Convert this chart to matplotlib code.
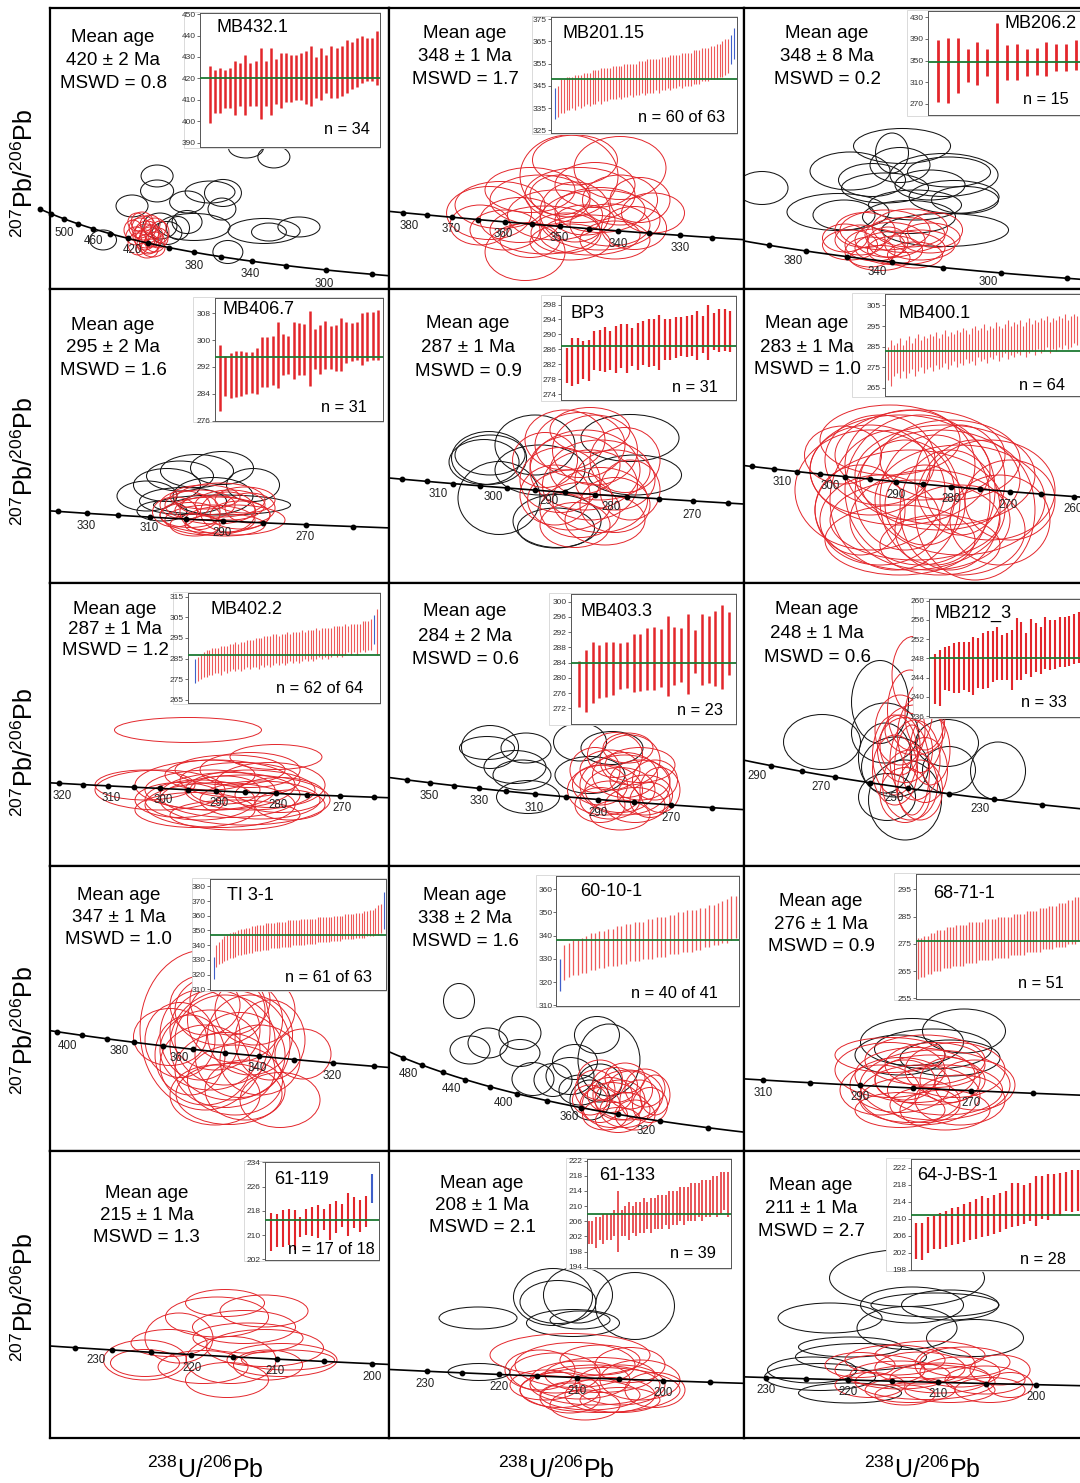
import numpy as np
import matplotlib
matplotlib.use("Agg")
import matplotlib.pyplot as plt
from matplotlib.patches import Ellipse, Rectangle

plt.rcParams["font.family"] = ["Liberation Sans", "DejaVu Sans"]
plt.rcParams["mathtext.fontset"] = "custom"
plt.rcParams["mathtext.rm"] = "Liberation Sans"
plt.rcParams["mathtext.it"] = "Liberation Sans:italic"
plt.rcParams["mathtext.bf"] = "Liberation Sans:bold"

# ---------------------------------------------------------------- samples
sample_names = ["MB432.1", "MB201.15", "MB206.2", "MB406.7", "BP3", "MB400.1",
                "MB402.2", "MB403.3", "MB212_3", "TI 3-1", "60-10-1", "68-71-1",
                "61-119", "61-133", "64-J-BS-1"]
mean_ages = [420, 348, 348, 295, 287, 283, 287, 284, 248, 347, 338, 276, 215, 208, 211]
mean_errs = [2, 1, 8, 2, 1, 1, 1, 2, 1, 1, 2, 1, 1, 1, 1]
mswd_values = ["0.8", "1.7", "0.2", "1.6", "0.9", "1.0", "1.2", "0.6", "0.6",
               "1.0", "1.6", "0.9", "1.3", "2.1", "2.7"]
n_labels = ["n = 34", "n = 60 of 63", "n = 15", "n = 31", "n = 31", "n = 64",
            "n = 62 of 64", "n = 23", "n = 33", "n = 61 of 63", "n = 40 of 41",
            "n = 51", "n = 17 of 18", "n = 39", "n = 28"]

# concordia age marks (Ma): (oldest, youngest, step) and labelled ages
tick_ages = [(540, 260, 20), (385, 320, 5), (420, 260, 20), (340, 260, 10), (320, 260, 5),
             (320, 255, 5), (320, 265, 5), (360, 260, 10), (290, 220, 10), (400, 300, 10),
             (500, 300, 20), (310, 260, 10), (235, 200, 5), (230, 195, 5), (235, 195, 5)]
label_ages = [[500, 460, 420, 380, 340, 300], [380, 370, 360, 350, 340, 330], [380, 340, 300],
              [330, 310, 290, 270], [310, 300, 290, 280, 270], [310, 300, 290, 280, 270, 260],
              [320, 310, 300, 290, 280, 270], [350, 330, 310, 290, 270], [290, 270, 250, 230],
              [400, 380, 360, 340, 320], [480, 440, 400, 360, 320], [310, 290, 270],
              [230, 220, 210, 200], [230, 220, 210, 200], [230, 220, 210, 200]]

# ------------------------------------------- single-grain ages, 2s range (Ma)
mb432_lo = [399, 404, 404, 406, 406, 403, 407, 403, 407, 407, 401, 407, 403, 408, 406, 409, 409,
            410, 410, 408, 407, 411, 410, 413, 411, 411, 412, 413, 415, 416, 418, 419, 419, 417]
mb432_hi = [426, 424, 425, 424, 425, 428, 427, 431, 427, 428, 434, 428, 434, 429, 432, 432, 431,
            431, 432, 433, 435, 430, 434, 431, 435, 434, 435, 438, 437, 439, 440, 439, 439, 442]

mb201_lo = [330, 331, 333, 333, 334, 334, 335, 334, 336, 335, 336, 337, 336, 337, 337, 338, 337,
            338, 338, 339, 339, 339, 340, 339, 340, 340, 341, 340, 341, 341, 342, 341, 342, 342,
            342, 343, 342, 343, 343, 344, 343, 344, 344, 345, 344, 345, 345, 345, 346, 346, 346,
            347, 347, 347, 348, 348, 348, 349, 349, 350, 351, 355, 357]
mb201_hi = [344, 345, 348, 348, 349, 349, 349, 350, 350, 350, 351, 351, 351, 352, 352, 352, 353,
            353, 353, 353, 354, 354, 354, 354, 355, 355, 355, 355, 355, 356, 356, 356, 357, 357,
            357, 357, 357, 358, 358, 358, 359, 359, 359, 359, 360, 360, 360, 360, 361, 361, 361,
            362, 362, 362, 363, 363, 364, 364, 365, 366, 366, 368, 371]
mb201_rejected = [0, 61, 62]

mb206_lo = [274, 272, 290, 311, 305, 322, 271, 314, 314, 322, 324, 321, 330, 330, 332]
mb206_hi = [389, 391, 391, 371, 385, 371, 420, 379, 380, 372, 373, 385, 380, 381, 388]

mb406_lo = [279.0, 283.2, 282.8, 283.0, 283.2, 283.9, 284.2, 283.9, 286.1, 286.1, 286.5, 285.7,
            289.7, 289.9, 288.5, 289.7, 289.5, 286.2, 291.5, 289.9, 291.3, 291.5, 290.9, 290.7,
            293.1, 293.8, 294.1, 292.5, 293.8, 294.1, 294.1]
mb406_hi = [298.6, 295.1, 296.1, 296.6, 296.6, 296.4, 296.4, 297.6, 300.8, 300.8, 301.1, 305.5,
            301.9, 301.1, 305.3, 305.0, 304.7, 308.7, 303.3, 304.5, 305.7, 304.3, 304.5, 306.5,
            305.5, 305.0, 305.5, 308.0, 308.2, 308.3, 308.9]

bp3_lo = [277.0, 276.1, 276.7, 278.1, 277.6, 280.5, 280.1, 279.9, 280.5, 279.6, 281.0, 279.6,
          281.4, 280.5, 281.7, 281.2, 281.4, 280.5, 283.0, 283.2, 283.7, 284.1, 283.9, 284.1,
          283.0, 285.0, 283.0, 285.9, 285.3, 285.6, 285.4]
bp3_hi = [286.4, 289.0, 289.0, 288.3, 288.6, 290.8, 291.3, 291.9, 291.0, 292.2, 292.8, 292.8,
          291.6, 293.1, 293.5, 294.2, 294.0, 295.1, 294.0, 294.0, 294.6, 294.6, 294.9, 295.1,
          296.4, 294.9, 298.0, 295.8, 296.7, 296.7, 296.4]

mb400_lo = [269, 266, 271, 272, 270, 273, 270, 272, 274, 271, 273, 275, 272, 274, 275, 273, 276,
            274, 275, 277, 274, 276, 278, 275, 277, 276, 279, 277, 278, 276, 280, 278, 279, 277,
            280, 279, 281, 278, 280, 282, 279, 281, 280, 282, 281, 283, 280, 282, 283, 281, 284,
            282, 283, 285, 282, 284, 283, 285, 284, 286, 284, 285, 287, 286]
mb400_hi = [285, 288, 286, 287, 289, 286, 288, 290, 287, 289, 291, 288, 290, 289, 291, 290, 292,
            289, 291, 293, 290, 292, 291, 293, 292, 294, 293, 291, 294, 295, 293, 294, 296, 293,
            295, 294, 297, 295, 294, 296, 298, 295, 297, 296, 298, 295, 297, 299, 296, 298, 297,
            299, 298, 300, 297, 299, 298, 300, 299, 301, 298, 300, 301, 300]

mb402_lo = [273, 274, 275, 276, 276, 277, 277, 278, 278, 277, 279, 278, 279, 280, 279, 280, 279,
            280, 281, 280, 281, 281, 280, 282, 281, 282, 281, 282, 283, 282, 283, 282, 283, 284,
            283, 284, 283, 284, 285, 284, 285, 284, 285, 286, 285, 286, 285, 286, 287, 286, 287,
            286, 287, 288, 287, 288, 287, 288, 289, 288, 289, 289, 292, 287]
mb402_hi = [285, 286, 287, 288, 289, 289, 290, 290, 290, 291, 291, 291, 292, 292, 293, 292, 293,
            293, 294, 294, 294, 295, 295, 295, 296, 296, 296, 297, 297, 296, 297, 297, 298, 297,
            298, 298, 298, 299, 298, 299, 299, 299, 300, 299, 300, 300, 300, 300, 301, 301, 301,
            301, 302, 301, 302, 302, 302, 302, 303, 303, 303, 304, 306, 309]
mb402_rejected = [0, 62]

mb403_lo = [272.4, 271.1, 273.3, 274.6, 274.9, 275.5, 277.1, 277.3, 276.3, 276.6, 276.8, 276.8,
            277.5, 275.3, 278.1, 278.9, 275.9, 281.4, 278.1, 278.7, 277.9, 277.0, 280.8]
mb403_hi = [284.3, 287.3, 289.5, 288.6, 289.3, 289.5, 289.1, 289.5, 291.5, 291.5, 293.0, 293.3,
            292.7, 296.1, 293.4, 293.0, 296.7, 292.6, 296.8, 296.2, 297.6, 299.1, 297.2]

mb212_lo = [238.5, 238.0, 241.4, 241.3, 240.7, 240.7, 241.4, 241.1, 240.4, 241.8, 241.6, 241.8,
            243.1, 243.6, 243.5, 243.6, 241.4, 243.5, 243.6, 244.7, 244.2, 245.2, 244.7, 245.7,
            245.6, 245.7, 246.1, 246.1, 246.4, 246.8, 247.0, 247.3, 247.9]
mb212_hi = [248.9, 249.7, 250.4, 250.6, 251.1, 251.5, 251.3, 251.5, 252.5, 252.2, 253.2, 253.6,
            253.6, 254.6, 252.9, 253.2, 253.9, 256.5, 255.6, 253.3, 256.1, 255.3, 254.6, 256.7,
            256.0, 256.0, 256.7, 256.7, 256.8, 257.2, 257.6, 258.0, 258.5]

ti31_lo = [317, 325, 327, 328, 329, 330, 331, 331, 332, 333, 333, 334, 334, 335, 335, 336, 336,
           336, 337, 337, 337, 338, 338, 338, 338, 339, 339, 339, 339, 340, 340, 340, 340, 340,
           341, 341, 341, 341, 342, 342, 342, 342, 342, 343, 343, 343, 343, 344, 344, 344, 344,
           344, 345, 345, 345, 345, 346, 346, 346, 347, 347, 348, 351]
ti31_hi = [332, 340, 342, 344, 346, 347, 348, 349, 349, 350, 351, 351, 352, 352, 353, 353, 354,
           354, 354, 355, 355, 355, 355, 356, 356, 356, 356, 357, 357, 357, 357, 357, 358, 358,
           358, 358, 358, 358, 359, 359, 359, 359, 359, 359, 360, 360, 360, 360, 361, 361, 361,
           361, 362, 362, 362, 363, 363, 364, 364, 365, 367, 368, 376]
ti31_rejected = [0, 62]

s601001_lo = [316, 321, 322, 323, 323, 324, 324, 325, 325, 326, 326, 327, 327, 327, 328, 328,
              329, 329, 329, 330, 330, 330, 331, 331, 331, 332, 332, 332, 333, 333, 333, 334,
              334, 335, 335, 336, 336, 337, 337, 338, 339]
s601001_hi = [330, 336, 337, 338, 338, 339, 340, 341, 341, 342, 342, 343, 343, 344, 344, 345,
              345, 346, 346, 346, 347, 347, 348, 348, 348, 349, 349, 350, 350, 351, 351, 351,
              352, 352, 353, 353, 354, 355, 356, 357, 357]
s601001_rejected = [0]

s68711_lo = [262, 263, 263, 264, 264, 265, 265, 265, 266, 266, 266, 267, 267, 267, 267, 268,
             268, 268, 268, 269, 269, 269, 269, 269, 270, 270, 270, 270, 270, 271, 271, 271,
             271, 271, 272, 272, 272, 272, 272, 273, 273, 273, 273, 274, 274, 274, 274, 275,
             275, 275, 276]
s68711_hi = [277, 277, 278, 278, 279, 279, 280, 280, 280, 281, 281, 281, 282, 282, 282, 282,
             283, 283, 283, 283, 283, 284, 284, 284, 284, 285, 285, 285, 285, 285, 286, 286,
             286, 286, 287, 287, 287, 287, 288, 288, 288, 289, 289, 289, 290, 290, 290, 291,
             291, 292, 292]

s61119_lo = [204.9, 206.2, 206.2, 206.9, 205.1, 209.4, 210.0, 209.7, 208.9, 211.6, 208.3, 210.7,
             212.7, 209.7, 212.2, 211.0, 212.7, 220.6]
s61119_hi = [217.3, 216.8, 218.4, 218.7, 218.4, 216.0, 218.7, 219.3, 219.8, 218.7, 220.4, 221.4,
             220.4, 223.8, 222.5, 221.5, 222.8, 230.0]
s61119_rejected = [17]

s61133_lo = [200, 200, 199, 201, 200, 201, 201, 202, 198, 202, 202, 201, 203, 202, 203, 203, 204,
             203, 204, 204, 204, 205, 204, 205, 205, 206, 205, 206, 206, 206, 207, 206, 207, 207,
             208, 207, 208, 209, 207]
s61133_hi = [206, 206, 207, 207, 208, 208, 208, 209, 214, 209, 210, 211, 210, 211, 211, 212, 211,
             212, 212, 213, 213, 213, 214, 214, 214, 215, 215, 215, 216, 216, 216, 217, 217, 217,
             218, 218, 219, 219, 219]

s64jbs1_lo = [200.7, 200.3, 201.9, 203.0, 203.0, 203.4, 203.8, 204.2, 204.6, 205.0, 205.3, 205.7,
              206.0, 206.5, 206.9, 207.7, 208.1, 208.4, 208.8, 209.6, 208.4, 210.0, 209.8, 211.2,
              210.8, 211.9, 211.7, 211.9]
s64jbs1_hi = [209.1, 209.1, 210.4, 210.8, 211.5, 211.9, 212.5, 212.9, 213.5, 214.0, 214.6, 215.4,
              215.0, 215.6, 216.2, 216.6, 218.5, 218.5, 218.1, 218.5, 220.1, 220.2, 220.5, 220.5,
              220.8, 221.0, 221.6, 221.6]

# ------------- Tera-Wasserburg error ellipses: (238U/206Pb, 207Pb/206Pb, 2s x, 2s y)
mb432_red = [(15.33, 0.05627, 0.85, 0.00209), (15.60, 0.05585, 0.93, 0.00230), (15.79, 0.05544, 0.85, 0.00230),
             (15.52, 0.05502, 0.77, 0.00209), (15.17, 0.05544, 0.77, 0.00188), (15.91, 0.05627, 0.85, 0.00209),
             (15.72, 0.05669, 0.77, 0.00188), (15.41, 0.05690, 0.85, 0.00209), (16.03, 0.05523, 0.77, 0.00209),
             (15.64, 0.05460, 0.85, 0.00209), (15.25, 0.05460, 0.77, 0.00230), (15.83, 0.05418, 0.93, 0.00188),
             (16.10, 0.05585, 0.70, 0.00230), (15.06, 0.05606, 0.70, 0.00209), (15.56, 0.05544, 1.01, 0.00251),
             (15.72, 0.05502, 0.85, 0.00272), (15.48, 0.05627, 0.93, 0.00251), (15.91, 0.05481, 0.77, 0.00209),
             (15.60, 0.05397, 0.85, 0.00168), (15.21, 0.05690, 0.70, 0.00188)]
mb432_black = [(15.99, 0.06172, 1.24, 0.00230), (15.99, 0.06015, 1.28, 0.00230), (15.02, 0.05858, 1.24, 0.00230),
               (17.15, 0.05900, 1.35, 0.00230), (18.54, 0.05994, 1.43, 0.00283), (18.04, 0.06004, 1.93, 0.00230),
               (18.50, 0.05826, 1.08, 0.00230), (17.42, 0.05638, 2.79, 0.00283), (17.15, 0.05690, 1.16, 0.00241),
               (20.13, 0.05596, 2.79, 0.00262), (21.48, 0.05638, 1.63, 0.00209), (20.32, 0.05585, 1.35, 0.00188),
               (18.73, 0.05376, 1.16, 0.00241), (19.43, 0.06465, 1.35, 0.00209), (20.51, 0.06371, 1.24, 0.00230),
               (13.90, 0.05502, 1.04, 0.00209), (16.80, 0.05627, 0.89, 0.00241), (16.37, 0.05575, 1.16, 0.00241),
               (16.10, 0.05648, 1.32, 0.00272)]

mb201_red = [(18.009, 0.056139, 0.909, 0.004295), (18.482, 0.056558, 0.853, 0.003300), (18.064, 0.056977, 0.788, 0.002619),
             (17.267, 0.054200, 0.788, 0.002776), (17.369, 0.054619, 0.835, 0.002462), (17.601, 0.052157, 0.742, 0.002986),
             (18.788, 0.054200, 0.584, 0.002095), (18.612, 0.053415, 0.603, 0.002253), (17.981, 0.053153, 0.649, 0.002095),
             (17.740, 0.054881, 0.928, 0.002619), (18.111, 0.055143, 1.020, 0.002881), (18.296, 0.054357, 0.835, 0.002357),
             (17.879, 0.054095, 0.881, 0.002619), (17.554, 0.053834, 0.742, 0.002357), (18.389, 0.053572, 0.742, 0.002200),
             (18.204, 0.053048, 0.928, 0.002095), (17.786, 0.053310, 1.020, 0.002514), (18.064, 0.054253, 0.649, 0.003143),
             (17.647, 0.055405, 0.835, 0.002357), (18.482, 0.054881, 0.696, 0.002619), (17.925, 0.055143, 0.557, 0.002095),
             (18.250, 0.055667, 0.742, 0.002357), (17.415, 0.053310, 0.649, 0.002095), (18.667, 0.054881, 0.557, 0.002357),
             (18.018, 0.052681, 0.742, 0.001886), (18.296, 0.053834, 1.113, 0.003143), (17.647, 0.052786, 0.557, 0.001833),
             (18.435, 0.052786, 0.649, 0.001991), (17.183, 0.053572, 0.557, 0.002095), (18.157, 0.053834, 0.557, 0.001572)]
mb201_black = []

mb206_red = [(17.723, 0.055159, 1.161, 0.002571), (18.071, 0.054731, 1.393, 0.002742), (18.419, 0.055159, 1.625, 0.003000),
             (18.767, 0.055587, 1.857, 0.003000), (18.535, 0.054302, 1.277, 0.002399), (17.955, 0.054131, 1.161, 0.002571),
             (19.115, 0.054731, 1.625, 0.002571), (18.303, 0.056016, 2.089, 0.003428), (17.491, 0.054731, 1.277, 0.002571),
             (18.883, 0.056187, 1.741, 0.003256), (18.187, 0.053617, 1.393, 0.002142), (19.348, 0.055330, 1.393, 0.002571),
             (17.839, 0.056016, 1.393, 0.003000), (18.651, 0.054473, 2.089, 0.002913), (17.374, 0.055330, 1.045, 0.002399),
             (19.464, 0.056016, 1.277, 0.003000), (18.999, 0.053874, 1.277, 0.002228), (18.373, 0.054988, 0.929, 0.002571)]
mb206_black = [(18.698, 0.063214, 2.252, 0.003000), (15.448, 0.059615, 1.207, 0.002828), (17.491, 0.061072, 1.857, 0.003256),
               (18.001, 0.060300, 1.555, 0.002828), (19.673, 0.060729, 2.507, 0.003685), (19.789, 0.060986, 1.927, 0.002571),
               (17.212, 0.057558, 2.368, 0.003171), (17.351, 0.057301, 1.439, 0.002571), (18.303, 0.059615, 2.020, 0.002571),
               (18.999, 0.058158, 2.159, 0.002571), (19.696, 0.056016, 2.948, 0.002828), (19.905, 0.058844, 2.089, 0.002828),
               (18.465, 0.062614, 0.766, 0.003428), (20.160, 0.058587, 1.555, 0.002314), (18.860, 0.057130, 2.159, 0.002828),
               (18.651, 0.061586, 1.393, 0.003000), (19.348, 0.059872, 1.625, 0.002571)]

mb406_red = [(21.277, 0.054038, 1.383, 0.003636), (21.574, 0.053432, 1.581, 0.003394), (21.870, 0.054038, 1.383, 0.003636),
             (21.080, 0.052826, 1.186, 0.003030), (21.475, 0.052220, 1.779, 0.003636), (22.068, 0.052826, 1.186, 0.003394),
             (21.673, 0.054644, 1.779, 0.004121), (20.981, 0.054038, 0.988, 0.003394), (21.771, 0.051614, 1.581, 0.002667),
             (22.266, 0.053675, 0.988, 0.003636), (21.376, 0.055008, 1.383, 0.002909), (21.969, 0.052220, 1.976, 0.003636),
             (21.179, 0.051614, 0.988, 0.002667), (21.574, 0.052826, 2.174, 0.004364), (22.167, 0.054644, 1.186, 0.003152),
             (20.783, 0.053190, 0.889, 0.003636), (21.277, 0.053190, 0.791, 0.004242), (21.831, 0.053190, 1.087, 0.004848)]
mb406_black = [(21.712, 0.058523, 1.245, 0.004000), (22.325, 0.056462, 1.047, 0.004000), (20.882, 0.057553, 1.324, 0.003636),
               (20.625, 0.056462, 1.324, 0.004000), (20.230, 0.055129, 1.186, 0.003636), (20.941, 0.054523, 1.719, 0.003273),
               (21.712, 0.054038, 2.708, 0.002424), (21.218, 0.058159, 1.443, 0.004000), (21.534, 0.055129, 1.581, 0.004485),
               (20.526, 0.053311, 0.988, 0.002424)]

bp3_red = [(21.736, 0.054860, 1.027, 0.003158), (21.929, 0.054596, 1.155, 0.003421), (22.121, 0.054333, 1.091, 0.003684),
           (21.865, 0.053544, 1.155, 0.003158), (22.186, 0.053281, 1.284, 0.003158), (21.672, 0.052754, 1.027, 0.003421),
           (22.057, 0.052491, 1.220, 0.003684), (22.378, 0.052754, 1.027, 0.003158), (21.801, 0.051702, 1.091, 0.003158),
           (22.186, 0.051702, 1.220, 0.003421), (21.929, 0.051175, 1.027, 0.002895), (22.378, 0.051439, 0.899, 0.002895),
           (21.608, 0.051965, 0.899, 0.003158), (22.507, 0.053807, 0.899, 0.003421), (22.057, 0.055386, 1.027, 0.002368),
           (21.480, 0.053807, 0.834, 0.002895), (22.250, 0.050649, 1.027, 0.002632), (21.865, 0.050386, 0.899, 0.002368),
           (22.571, 0.052228, 0.770, 0.003158), (21.993, 0.053281, 1.412, 0.004211)]
bp3_black = [(20.761, 0.053912, 0.963, 0.002789), (20.774, 0.054070, 0.899, 0.002105), (20.697, 0.053702, 0.899, 0.002368),
             (20.889, 0.051807, 1.053, 0.003842), (21.351, 0.054596, 1.027, 0.003158), (22.571, 0.054965, 1.258, 0.002474),
             (22.635, 0.053018, 1.194, 0.002105), (21.634, 0.050596, 1.130, 0.002789), (21.621, 0.050228, 0.988, 0.002105),
             (21.415, 0.053281, 1.155, 0.002632)]

mb400_red = [(22.080, 0.053316, 2.453, 0.004091), (21.791, 0.052634, 2.597, 0.005000), (22.368, 0.052179, 2.309, 0.004545),
             (21.358, 0.051725, 2.165, 0.005455), (22.657, 0.051270, 2.453, 0.005000), (21.935, 0.050816, 2.742, 0.005455),
             (22.224, 0.050361, 2.309, 0.004545), (21.502, 0.050361, 1.732, 0.004091), (23.090, 0.051725, 1.876, 0.004545),
             (22.513, 0.053088, 2.020, 0.003636), (21.647, 0.053997, 2.020, 0.003182), (22.657, 0.049906, 1.876, 0.004091),
             (21.791, 0.049452, 2.165, 0.003182), (22.368, 0.049225, 1.732, 0.002727), (21.358, 0.052634, 1.732, 0.004091),
             (23.234, 0.050361, 1.443, 0.004091), (22.080, 0.051725, 2.165, 0.006818), (22.296, 0.051270, 1.587, 0.005909),
             (21.863, 0.051497, 1.443, 0.005000), (22.657, 0.052179, 1.299, 0.005000), (21.214, 0.050816, 1.299, 0.004091),
             (21.935, 0.052861, 1.876, 0.005000), (22.873, 0.050816, 1.732, 0.006364), (22.008, 0.050361, 2.453, 0.003636),
             (22.440, 0.052406, 2.597, 0.004545), (21.502, 0.053088, 1.587, 0.004091), (23.378, 0.051270, 1.299, 0.003636),
             (22.152, 0.051043, 1.154, 0.003636), (21.719, 0.051270, 1.876, 0.006364), (22.513, 0.050816, 1.443, 0.005455),
             (20.969, 0.053316, 1.111, 0.002636)]
mb400_black = []

mb402_red = [(21.360, 0.057628, 1.955, 0.002264), (20.988, 0.052193, 1.729, 0.003623), (20.788, 0.052646, 1.330, 0.002717),
             (21.653, 0.052193, 1.729, 0.003623), (21.919, 0.051740, 1.862, 0.004076), (22.185, 0.052193, 1.729, 0.003623),
             (21.786, 0.050834, 1.995, 0.004076), (22.052, 0.053099, 1.596, 0.003170), (21.520, 0.051287, 1.463, 0.003623),
             (22.318, 0.051287, 1.596, 0.003442), (22.584, 0.051740, 1.197, 0.003170), (21.919, 0.054005, 1.463, 0.002717),
             (22.185, 0.054005, 1.330, 0.003170), (21.719, 0.052646, 2.128, 0.004529), (22.451, 0.052646, 1.463, 0.004076),
             (21.453, 0.050381, 1.596, 0.003170), (21.985, 0.049929, 1.729, 0.002717), (22.716, 0.050834, 0.931, 0.002717),
             (21.254, 0.051287, 1.197, 0.003170), (21.653, 0.053552, 1.197, 0.002717), (22.118, 0.051287, 2.261, 0.004529),
             (21.852, 0.052193, 0.931, 0.002536), (22.530, 0.055182, 1.223, 0.002264)]
mb402_black = []

mb403_red = [(21.993, 0.054559, 1.354, 0.003325), (22.331, 0.054143, 1.467, 0.003741), (22.670, 0.053727, 1.354, 0.003325),
             (21.767, 0.053312, 1.242, 0.003325), (22.218, 0.052896, 1.580, 0.003741), (22.783, 0.052480, 1.242, 0.003325),
             (22.444, 0.055390, 1.354, 0.004156), (21.993, 0.052065, 1.354, 0.003159), (22.557, 0.051649, 1.354, 0.002909),
             (21.654, 0.054559, 1.129, 0.003741), (23.009, 0.053727, 1.016, 0.003325), (22.218, 0.050818, 1.354, 0.002494),
             (22.106, 0.055805, 1.242, 0.003741), (22.670, 0.054974, 1.580, 0.002909), (21.880, 0.052896, 1.693, 0.004156),
             (22.896, 0.052065, 0.903, 0.002909), (22.331, 0.053312, 2.032, 0.004988), (21.767, 0.051649, 1.129, 0.002909),
             (23.121, 0.052896, 0.903, 0.003741), (22.399, 0.056387, 1.129, 0.002494)]
mb403_black = [(19.284, 0.056470, 1.287, 0.003574), (19.216, 0.056387, 1.242, 0.001912), (19.848, 0.054808, 1.400, 0.002743),
               (20.097, 0.056387, 1.129, 0.002494), (20.006, 0.054143, 1.309, 0.002494), (20.142, 0.052314, 1.422, 0.002743),
               (21.316, 0.056886, 1.196, 0.003159), (21.541, 0.054143, 1.580, 0.003076), (22.038, 0.056387, 1.400, 0.002743)]

mb212_red = [(25.428, 0.055735, 1.097, 0.003080), (25.349, 0.054335, 1.175, 0.003200), (25.088, 0.053535, 1.305, 0.002800),
             (25.610, 0.053335, 1.175, 0.003000), (25.219, 0.052735, 1.436, 0.002600), (25.480, 0.052335, 1.305, 0.003200),
             (24.958, 0.051935, 1.175, 0.002800), (25.741, 0.051935, 1.175, 0.002600), (25.349, 0.051335, 1.436, 0.002800),
             (25.088, 0.052935, 1.044, 0.002400), (25.871, 0.052735, 1.044, 0.002800), (25.480, 0.053535, 1.567, 0.002000),
             (25.219, 0.050935, 1.305, 0.002200), (25.610, 0.051135, 1.175, 0.002400), (24.958, 0.052535, 1.175, 0.003200),
             (25.401, 0.051935, 0.914, 0.003600), (25.741, 0.054135, 1.044, 0.002800)]
mb212_black = [(23.052, 0.053055, 2.010, 0.002200), (24.566, 0.054655, 1.488, 0.003320), (24.696, 0.053415, 1.749, 0.002400),
               (24.696, 0.052415, 1.384, 0.002800), (24.958, 0.052055, 1.749, 0.002400), (25.219, 0.050735, 1.906, 0.003200),
               (26.367, 0.051935, 1.384, 0.001880), (27.647, 0.051895, 1.436, 0.002320), (26.315, 0.053015, 1.645, 0.001880),
               (24.749, 0.050855, 1.488, 0.001880)]

ti31_red = [(18.470, 0.054135, 1.698, 0.006169), (18.300, 0.054820, 1.528, 0.005483), (18.640, 0.055506, 1.613, 0.005826),
            (18.215, 0.053450, 1.698, 0.005483), (18.725, 0.053107, 1.528, 0.005826), (18.470, 0.052079, 1.698, 0.005141),
            (18.046, 0.054478, 1.358, 0.006169), (18.895, 0.054478, 1.443, 0.005483), (18.385, 0.056191, 1.528, 0.004798),
            (18.640, 0.051393, 1.613, 0.004798), (18.131, 0.052422, 1.528, 0.005483), (19.064, 0.052764, 1.358, 0.004798),
            (17.876, 0.053107, 1.188, 0.005483), (18.555, 0.056877, 1.358, 0.004798), (18.810, 0.050708, 1.358, 0.004112),
            (18.300, 0.050365, 1.528, 0.004112), (19.234, 0.054135, 1.188, 0.005483), (17.706, 0.054135, 1.188, 0.005141),
            (18.555, 0.053792, 2.037, 0.007539), (18.131, 0.056534, 1.188, 0.004112), (18.979, 0.056191, 1.358, 0.004798),
            (18.538, 0.050434, 1.800, 0.004181), (19.404, 0.050023, 1.358, 0.003770), (18.131, 0.054820, 2.207, 0.010966),
            (17.536, 0.054341, 1.239, 0.003907), (19.794, 0.053175, 0.951, 0.003427)]
ti31_black = []

s601001_red = [(18.232, 0.054614, 1.268, 0.002441), (18.514, 0.054265, 1.408, 0.002789), (18.796, 0.054962, 1.268, 0.002650),
               (17.951, 0.053916, 1.127, 0.002441), (18.655, 0.053568, 1.408, 0.002441), (19.077, 0.054265, 1.127, 0.002789),
               (18.373, 0.055311, 1.268, 0.002441), (18.092, 0.053219, 1.268, 0.002092), (18.937, 0.053219, 1.127, 0.002092),
               (19.218, 0.055102, 1.127, 0.002650), (17.810, 0.054962, 1.127, 0.002789), (18.655, 0.055799, 1.127, 0.002092),
               (19.359, 0.053916, 0.986, 0.002441), (18.289, 0.053916, 1.690, 0.003138), (18.739, 0.054614, 1.972, 0.003487),
               (17.669, 0.054265, 0.986, 0.002092), (19.500, 0.054614, 0.845, 0.002789), (18.458, 0.052870, 1.268, 0.001743),
               (17.951, 0.055660, 1.268, 0.002789)]
s601001_black = [(13.979, 0.061169, 0.873, 0.002441), (14.289, 0.057752, 1.127, 0.001953), (14.796, 0.058240, 1.127, 0.002092),
                 (15.697, 0.058937, 1.183, 0.002301), (15.697, 0.057543, 1.127, 0.001883), (16.063, 0.055729, 1.183, 0.002301),
                 (16.627, 0.055660, 1.070, 0.002301), (17.866, 0.058798, 1.268, 0.002580), (18.204, 0.057054, 1.746, 0.005021),
                 (17.106, 0.055939, 1.352, 0.002580), (17.387, 0.054962, 1.183, 0.002092), (17.669, 0.054265, 1.127, 0.002789),
                 (17.951, 0.055451, 1.239, 0.002650), (17.246, 0.056915, 1.268, 0.002441)]

s68711_red = [(22.549, 0.052996, 1.778, 0.004717), (22.772, 0.052568, 1.630, 0.004288), (22.327, 0.052139, 1.481, 0.004717),
              (22.994, 0.051710, 1.704, 0.004288), (22.623, 0.051281, 1.778, 0.005146), (22.179, 0.053425, 1.630, 0.004717),
              (23.142, 0.053425, 1.481, 0.004717), (22.846, 0.053854, 1.481, 0.003859), (22.475, 0.050852, 1.481, 0.003859),
              (23.216, 0.050852, 1.333, 0.004288), (22.031, 0.051710, 1.185, 0.004288), (22.697, 0.054283, 1.778, 0.004288),
              (22.994, 0.049995, 1.333, 0.003431), (22.327, 0.049995, 1.333, 0.003002), (23.438, 0.052139, 1.185, 0.004288),
              (22.846, 0.052139, 2.222, 0.006003), (22.401, 0.052568, 0.889, 0.003431), (23.068, 0.052568, 0.889, 0.003859),
              (22.697, 0.050424, 1.037, 0.003002), (22.179, 0.054712, 1.630, 0.003002)]
s68711_black = [(22.505, 0.055827, 1.526, 0.004031), (23.275, 0.056770, 1.230, 0.003774), (22.816, 0.055226, 1.733, 0.003431),
                (22.327, 0.054712, 1.333, 0.003431), (23.068, 0.054454, 1.481, 0.003087)]

s61119_red = [(29.355, 0.052997, 1.278, 0.001285), (29.225, 0.052331, 1.667, 0.001904), (29.986, 0.052617, 1.424, 0.001523),
              (28.610, 0.051331, 1.100, 0.002380), (28.060, 0.050284, 1.343, 0.001904), (29.452, 0.050284, 1.456, 0.002237),
              (29.727, 0.051331, 1.780, 0.001428), (30.002, 0.050855, 1.893, 0.001761), (30.277, 0.050284, 1.780, 0.001571),
              (29.387, 0.049332, 1.343, 0.001666), (30.051, 0.050046, 1.117, 0.001428), (28.999, 0.049951, 1.456, 0.001571),
              (29.662, 0.051855, 1.667, 0.001571), (28.449, 0.051094, 1.230, 0.001285), (30.374, 0.050284, 1.505, 0.000952),
              (28.060, 0.050142, 1.117, 0.001285)]
s61119_black = []

s61133_red = [(30.076, 0.051890, 2.847, 0.002982), (29.809, 0.050642, 1.601, 0.002774), (30.254, 0.050156, 1.779, 0.002635),
              (30.609, 0.050503, 1.957, 0.002427), (30.965, 0.049810, 1.601, 0.002774), (29.898, 0.049463, 1.423, 0.002427),
              (30.432, 0.049116, 1.779, 0.002080), (30.787, 0.049116, 1.601, 0.002427), (31.321, 0.050156, 1.423, 0.002774),
              (30.165, 0.051197, 2.135, 0.003121), (30.520, 0.049810, 2.313, 0.002774), (31.143, 0.051197, 1.246, 0.002427),
              (29.631, 0.049810, 1.246, 0.002080), (30.609, 0.051543, 1.423, 0.002080), (30.965, 0.048769, 1.423, 0.001734),
              (30.343, 0.048423, 1.246, 0.002080), (31.588, 0.049463, 1.068, 0.002427), (30.609, 0.049463, 2.847, 0.003121),
              (29.542, 0.050850, 1.246, 0.002774), (30.076, 0.048908, 1.068, 0.002080)]
s61133_black = [(28.439, 0.054456, 1.388, 0.001526), (28.456, 0.050711, 1.103, 0.001179), (29.773, 0.055912, 1.406, 0.003953),
                (29.862, 0.055565, 1.352, 0.002982), (30.218, 0.056051, 1.228, 0.003884), (31.232, 0.055288, 1.406, 0.004646),
                (30.129, 0.054109, 1.655, 0.001872), (30.254, 0.054317, 1.068, 0.001248)]

s64jbs1_red = [(29.299, 0.051458, 1.402, 0.002755), (29.611, 0.050999, 1.558, 0.002571), (29.922, 0.051641, 1.402, 0.002938),
               (30.234, 0.050723, 1.558, 0.002755), (30.545, 0.051274, 1.246, 0.002755), (30.935, 0.050540, 1.246, 0.002571),
               (29.144, 0.050080, 1.090, 0.002296), (29.767, 0.049621, 1.402, 0.002296), (30.390, 0.049621, 1.402, 0.002296),
               (29.533, 0.052376, 1.558, 0.002755), (30.078, 0.052835, 1.713, 0.002571), (30.623, 0.052192, 1.402, 0.002755),
               (31.169, 0.051458, 0.935, 0.002755), (28.988, 0.051917, 1.090, 0.002296), (30.000, 0.050356, 2.181, 0.003214),
               (31.013, 0.049621, 1.090, 0.002296), (29.689, 0.049162, 0.935, 0.001837), (30.312, 0.051917, 0.935, 0.003214),
               (31.324, 0.050080, 0.701, 0.002296)]
s64jbs1_black = [(29.720, 0.059906, 2.414, 0.005234), (29.798, 0.057427, 1.604, 0.003306), (30.156, 0.057427, 1.994, 0.002204),
                 (30.390, 0.057427, 1.511, 0.002755), (28.521, 0.056233, 1.620, 0.002755), (29.720, 0.055315, 1.558, 0.003949),
                 (30.779, 0.054396, 1.511, 0.003398), (28.832, 0.053570, 1.604, 0.001837), (29.003, 0.052652, 2.040, 0.002479),
                 (28.240, 0.051458, 1.386, 0.002388), (28.365, 0.050815, 1.729, 0.002479), (28.832, 0.049346, 1.604, 0.001837)]

lo_sets = [mb432_lo, mb201_lo, mb206_lo, mb406_lo, bp3_lo, mb400_lo, mb402_lo, mb403_lo,
           mb212_lo, ti31_lo, s601001_lo, s68711_lo, s61119_lo, s61133_lo, s64jbs1_lo]
hi_sets = [mb432_hi, mb201_hi, mb206_hi, mb406_hi, bp3_hi, mb400_hi, mb402_hi, mb403_hi,
           mb212_hi, ti31_hi, s601001_hi, s68711_hi, s61119_hi, s61133_hi, s64jbs1_hi]
rejected_sets = [[], mb201_rejected, [], [], [], [], mb402_rejected, [], [], ti31_rejected,
                 s601001_rejected, [], s61119_rejected, [], []]
red_sets = [mb432_red, mb201_red, mb206_red, mb406_red, bp3_red, mb400_red, mb402_red, mb403_red,
            mb212_red, ti31_red, s601001_red, s68711_red, s61119_red, s61133_red, s64jbs1_red]
black_sets = [mb432_black, mb201_black, mb206_black, mb406_black, bp3_black, mb400_black,
              mb402_black, mb403_black, mb212_black, ti31_black, s601001_black, s68711_black,
              s61119_black, s61133_black, s64jbs1_black]

# ---------------------------------------------------------------- layout (pixels)
FIG_W, FIG_H = 1080, 1483
COLS = [(50, 389), (389, 744), (744, 1095)]
ROWS = [(8, 289), (289, 583), (583, 866), (866, 1151), (1151, 1438)]

LAYOUT = [
    dict(xlim=(11.846, 24.965), ylim=(0.049885, 0.079309), conc=(541, 253), clip=False,
         label_off=[(0, 14), (0, 12), (5, 12), (25, 18), (29, 17), (38, 18)],
         text=(113, 38, 22.5), inset=(200, 13, 380, 147), bg_left=184, bars_px=(210, 377),
         iylim=(388, 450.5), iyt=(390, 450, 10), bar_lw=1.8, light=False,
         name_xy=(217, 27), n_xy=(370, 130)),
    dict(xlim=(16.339, 19.632), ylim=(0.050219, 0.064939), conc=(150, 600), clip=True,
         label_off=[(6, 13), (-1, 12), (-1, 12), (0, 12), (0, 13), (0, 13)],
         text=(465, 33, 23.5), inset=(551, 17, 737, 133), bg_left=532, bars_px=(555, 734),
         iylim=(323.8, 376), iyt=(325, 375, 10), bar_lw=0.8, light=True,
         name_xy=(563, 33), n_xy=(725, 118)),
    dict(xlim=(15.030, 23.177), ylim=(0.050960, 0.075039), conc=(150, 600), clip=True,
         label_off=[(-13, 10), (-15, 10), (-13, 9)],
         text=(827, 33, 23.5), inset=(928, 11, 1095, 115), bg_left=907, bars_px=(938, 1075.9),
         iylim=(249.7, 441.6), iyt=(270, 430, 40), bar_lw=2.0, light=False,
         name_xy=(1005, 23), n_xy=(1069, 100)),
    dict(xlim=(18.313, 25.012), ylim=(0.044584, 0.080220), conc=(150, 600), clip=True,
         label_off=[(-1, 13), (-1, 11), (-1, 12), (-1, 12)],
         text=(113, 325, 22.7), inset=(215, 298, 383, 421), bg_left=193, bars_px=(220, 378),
         iylim=(275.9, 312.5), iyt=(276, 308, 8), bar_lw=1.8, light=False,
         name_xy=(222, 310), n_xy=(367, 408)),
    dict(xlim=(19.477, 24.034), ylim=(0.047333, 0.062807), conc=(150, 600), clip=True,
         label_off=[(-15, 10), (-14, 9), (-16, 9), (-16, 10), (-1, 14)],
         text=(468, 324, 23.5), inset=(561, 296, 736, 400), bg_left=541, bars_px=(567, 730),
         iylim=(272.4, 300.3), iyt=(274, 298, 4), bar_lw=1.6, light=False,
         name_xy=(571, 313), n_xy=(718, 387)),
    dict(xlim=(19.540, 24.605), ylim=(0.047498, 0.060861), conc=(150, 600), clip=True,
         label_off=[(-14, 10), (-14, 9), (0, 13), (0, 12), (-2, 13), (-1, 12)],
         text=(807, 324, 23), inset=(885, 294, 1095, 396), bg_left=852, bars_px=(888, 1077),
         iylim=(261.1, 310.5), iyt=(265, 305, 10), bar_lw=0.8, light=True,
         name_xy=(899, 313), n_xy=(1065, 385)),
    dict(xlim=(19.525, 24.033), ylim=(0.045309, 0.070943), conc=(150, 600), clip=True,
         label_off=[(3, 13), (3, 12), (3, 12), (3, 12), (2, 12), (2, 12)],
         text=(115, 609, 21), inset=(188, 593, 380, 703), bg_left=173, bars_px=(195, 377),
         iylim=(263.5, 316.8), iyt=(265, 315, 10), bar_lw=0.8, light=True,
         name_xy=(210, 609), n_xy=(363, 688)),
    dict(xlim=(17.004, 25.018), ylim=(0.046579, 0.070103), conc=(150, 600), clip=True,
         label_off=[(0, 13), (0, 13), (-1, 14), (0, 13), (0, 13)],
         text=(465, 612, 24), inset=(571, 594, 736, 724), bg_left=549, bars_px=(579, 729),
         iylim=(267.9, 302.0), iyt=(272, 300, 4), bar_lw=1.8, light=False,
         name_xy=(580, 612), n_xy=(723, 710)),
    dict(xlim=(21.015, 30.179), ylim=(0.048095, 0.059415), conc=(150, 600), clip=True,
         label_off=[(-14, 10), (-13, 10), (-14, 10), (-14, 10)],
         text=(817, 609, 24), inset=(929, 599, 1095, 717), bg_left=913, bars_px=(935, 1088.6),
         iylim=(235.8, 260.35), iyt=(236, 260, 4), bar_lw=1.5, light=False,
         name_xy=(935, 613), n_xy=(1067, 703)),
    dict(xlim=(15.499, 21.254), ylim=(0.046527, 0.066061), conc=(150, 600), clip=True,
         label_off=[(10, 14), (12, 12), (17, 12), (33, 15), (38, 16)],
         text=(118.5, 896, 22), inset=(210, 879, 386, 990), bg_left=192, bars_px=(213.5, 383.6),
         iylim=(309.5, 385.0), iyt=(310, 380, 10), bar_lw=0.8, light=True,
         name_xy=(227, 896), n_xy=(372, 977)),
    dict(xlim=(12.007, 22.008), ylim=(0.050709, 0.070583), conc=(150, 600), clip=True,
         label_off=[(-14, 9), (-14, 9), (-14, 9), (-12, 9), (-14, 10)],
         text=(465, 896, 23), inset=(556.5, 876, 739, 1006), bg_left=536, bars_px=(560, 735.5),
         iylim=(309.7, 365.7), iyt=(310, 360, 10), bar_lw=0.9, light=True,
         name_xy=(580, 892), n_xy=(718, 993)),
    dict(xlim=(20.016, 25.216), ylim=(0.046479, 0.070921), conc=(150, 600), clip=True,
         label_off=[(0, 13), (0, 12), (0, 12)],
         text=(821, 902, 22.3), inset=(916, 874, 1095, 999), bg_left=894, bars_px=(918, 1078),
         iylim=(254.8, 300.6), iyt=(255, 295, 10), bar_lw=0.9, light=True,
         name_xy=(933, 893), n_xy=(1064, 983)),
    dict(xlim=(26.523, 32.008), ylim=(0.046572, 0.060232), conc=(150, 600), clip=True,
         label_off=[(-16, 10), (1, 13), (-2, 12), (0, 13)],
         text=(146.7, 1193, 22.3), inset=(265, 1162, 379, 1260), bg_left=244, bars_px=(270.7, 372),
         iylim=(201.8, 234.1), iyt=(202, 234, 8), bar_lw=1.5, light=False,
         name_xy=(274, 1180), n_xy=(375, 1250)),
    dict(xlim=(26.855, 33.172), ylim=(0.046134, 0.066037), conc=(150, 600), clip=True,
         label_off=[(-2, 13), (0, 13), (0, 13), (0, 12)],
         text=(482, 1183, 22.3), inset=(587, 1159, 731, 1268), bg_left=566, bars_px=(588.8, 728),
         iylim=(193.7, 222.4), iyt=(194, 222, 4), bar_lw=1.1, light=False,
         name_xy=(599, 1175), n_xy=(716, 1254)),
    dict(xlim=(27.181, 32.648), ylim=(0.045214, 0.071568), conc=(150, 600), clip=True,
         label_off=[(0, 12), (0, 12), (0, 12), (0, 12)],
         text=(811, 1186, 22.8), inset=(910.5, 1159, 1095, 1270), bg_left=886, bars_px=(916, 1078),
         iylim=(198, 224.1), iyt=(198, 222, 4), bar_lw=1.6, light=False,
         name_xy=(917, 1176), n_xy=(1066, 1259)),
]

RED = "#e3262b"
LIGHT_RED = "#ee5a5a"
BLACK = "#161616"
BLUE = "#3f5fc9"
GREEN = "#1d7a33"

# decay constants (per Ma) for the Tera-Wasserburg concordia
L238 = 1.55125e-4
L235 = 9.8485e-4
U85 = 137.88


def tw_x(t):
    return 1.0 / (np.exp(L238 * t) - 1.0)


def tw_y(t):
    return (np.exp(L235 * t) - 1.0) / (np.exp(L238 * t) - 1.0) / U85


def fx(px):
    return px / FIG_W


def fy(py):
    return 1.0 - py / FIG_H


def rect(l, t, r, b):
    return [fx(l), fy(b), (r - l) / FIG_W, (b - t) / FIG_H]


fig = plt.figure(figsize=(FIG_W / 100, FIG_H / 100), dpi=100)

for i, lay in enumerate(LAYOUT):
    row, col = divmod(i, 3)
    l, r = COLS[col]
    t, b = ROWS[row]

    # ---- concordia panel
    ax = fig.add_axes(rect(l, t, r, b))
    ax.set_zorder(0)
    ax.set_xlim(*lay["xlim"])
    ax.set_ylim(*lay["ylim"])
    ax.set_xticks([])
    ax.set_yticks([])
    for sp in ax.spines.values():
        sp.set_linewidth(1.6)
        sp.set_color("black")

    for (x, y, w, h) in black_sets[i]:
        ax.add_patch(Ellipse((x, y), w, h, fill=False, ec=BLACK, lw=0.75, zorder=2))
    for (x, y, w, h) in red_sets[i]:
        ax.add_patch(Ellipse((x, y), w, h, fill=False, ec=RED, lw=0.7, zorder=3))

    t0, t1 = lay["conc"]
    ages = np.linspace(t0, t1, 900)
    ax.plot(tw_x(ages), tw_y(ages), color="black", lw=1.2, zorder=4, clip_on=lay["clip"])
    old, young, step = tick_ages[i]
    marks = np.arange(young, old + 1, step)
    ax.plot(tw_x(marks), tw_y(marks), "o", color="black", ms=3.2, zorder=5,
            clip_on=lay["clip"])
    for age, (dx, dy) in zip(label_ages[i], lay["label_off"]):
        ax.annotate(f"{age}", (tw_x(age), tw_y(age)), xytext=(dx * 0.72, -dy * 0.72),
                    textcoords="offset points", ha="center", va="center",
                    fontsize=8.3, color="#222222", zorder=6)

    # ---- weighted-mean inset
    L, T, R, B = lay["inset"]
    fig.add_artist(Rectangle((fx(lay["bg_left"]), fy(B + 1)), (R - lay["bg_left"]) / FIG_W,
                             (B - T + 2) / FIG_H, transform=fig.transFigure,
                             facecolor="white", edgecolor="#d5d5d5", lw=0.6, zorder=1))
    iax = fig.add_axes(rect(L, T, R, B))
    iax.set_zorder(2)
    iax.set_facecolor("white")
    lo = np.asarray(lo_sets[i], float)
    hi = np.asarray(hi_sets[i], float)
    idx = np.arange(len(lo))
    b0, b1 = lay["bars_px"]
    sp_px = (b1 - b0) / (len(lo) - 1)
    iax.set_xlim((L - b0) / sp_px, (R - b0) / sp_px)
    iax.set_ylim(*lay["iylim"])
    base = LIGHT_RED if lay["light"] else RED
    colors = [BLUE if k in rejected_sets[i] else base for k in idx]
    iax.vlines(idx, lo, hi, colors=colors, lw=lay["bar_lw"], zorder=2)
    iax.axhline(mean_ages[i], color=GREEN, lw=1.3, zorder=3)
    y0, y1, ys = lay["iyt"]
    iax.set_yticks(np.arange(y0, y1 + 0.1, ys))
    iax.set_xticks([])
    iax.tick_params(axis="y", labelsize=6, length=2, width=0.5, pad=1, colors="#333333")
    for sp in iax.spines.values():
        sp.set_color("#555555")
        sp.set_linewidth(0.7)

    # ---- text
    cx, ty, dty = lay["text"]
    lines = ["Mean age", f"{mean_ages[i]} \u00b1 {mean_errs[i]} Ma", f"MSWD = {mswd_values[i]}"]
    for k, line in enumerate(lines):
        fig.text(fx(cx), fy(ty + k * dty), line, ha="center", va="center",
                 fontsize=13.5, zorder=5)
    nx, ny = lay["name_xy"]
    fig.text(fx(nx), fy(ny), sample_names[i], ha="left", va="center", fontsize=13, zorder=6)
    mx, my = lay["n_xy"]
    fig.text(fx(mx), fy(my), n_labels[i], ha="right", va="center", fontsize=11.8, zorder=6)

# axis titles
for yc in [173, 461, 752, 1030, 1297]:
    fig.text(fx(25), fy(yc), r"$^{207}$Pb/$^{206}$Pb", rotation=90, ha="center",
             va="center", fontsize=18, zorder=5)
for xc in [205, 556, 922]:
    fig.text(fx(xc), fy(1470), r"$^{238}$U/$^{206}$Pb", ha="center", va="center",
             fontsize=18, zorder=5)

fig.savefig("out.png", dpi=100)
